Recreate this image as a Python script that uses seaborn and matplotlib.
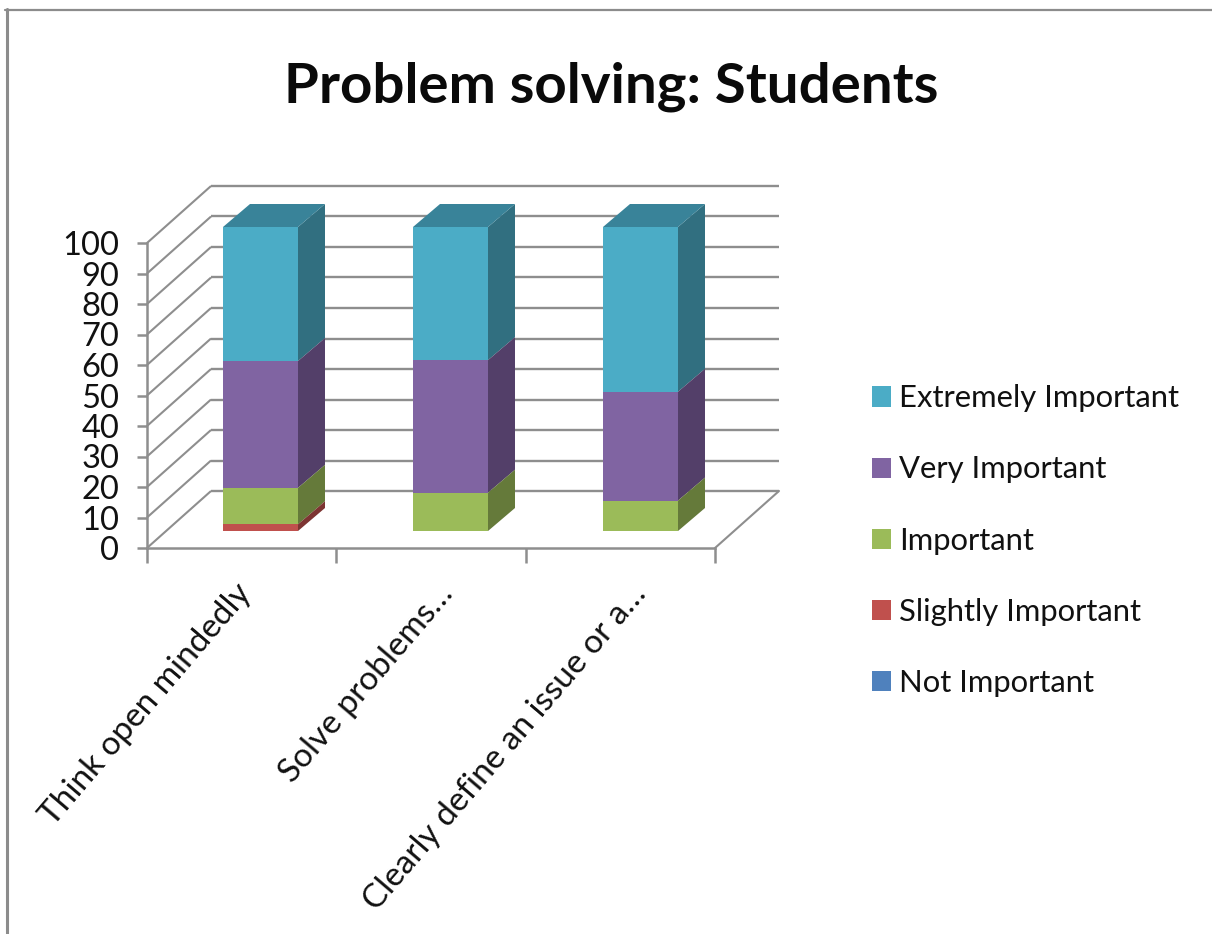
import numpy as np
import pandas as pd
import matplotlib
matplotlib.use("Agg")
import matplotlib.pyplot as plt
from matplotlib.lines import Line2D
from matplotlib.patches import Polygon
from matplotlib.transforms import Affine2D
import seaborn as sns

# ---- data ----
categories = ["Think open mindedly", "Solve problems…", "Clearly define an issue or a…"]
not_important = [0, 0, 0]
slightly_important = [2.2, 0, 0]
important = [12.0, 12.6, 10.0]
very_important = [41.7, 43.6, 35.8]
extremely_important = [44.1, 43.8, 54.2]
series_names = ["Extremely Important", "Very Important", "Important",
                "Slightly Important", "Not Important"]
y_ticks = list(range(0, 101, 10))
title = "Problem solving: Students"

front_colors = ["#4BACC6", "#8064A2", "#9BBB59", "#C0504D", "#4F81BD"]
side_colors = ["#316F80", "#533F69", "#657A3A", "#7D3432", "#33547B"]
top_color = "#398399"

W, H = 1212, 934
sns.set_theme(style="white")
plt.rcParams["font.family"] = ["Lato", "DejaVu Sans"]
TXT = "#111111"
GRID = "#8E8E8E"

fig = plt.figure(figsize=(W / 100, H / 100), dpi=100, facecolor="white")


def axes_px(x0, x1, ytop, ybot):
    return fig.add_axes([x0 / W, 1 - ybot / H, (x1 - x0) / W, (ybot - ytop) / H])


# ---- frame: axis plane, walls and floor ----
fx0, fx1, fytop, fybot = 147, 715, 243, 548
frame = axes_px(fx0, fx1, fytop, fybot)
frame.set_xlim(-0.5, 2.5)
frame.set_ylim(0, 100)
frame.patch.set_alpha(0)
sx = 3 / (fx1 - fx0)
sy = 100 / (fybot - fytop)
wall_dx, wall_dy = 64 * sx, 57 * sy
for v in y_ticks:
    frame.plot([-0.5, -0.5 + wall_dx], [v, v + wall_dy], color=GRID, lw=1.5,
               clip_on=False, solid_capstyle="butt")
    frame.plot([-0.5 + wall_dx, 2.5 + wall_dx], [v + wall_dy, v + wall_dy],
               color=GRID, lw=1.7, clip_on=False, solid_capstyle="butt")
frame.plot([2.5, 2.5 + wall_dx], [0, wall_dy], color=GRID, lw=1.5, clip_on=False)
for s in ("top", "right"):
    frame.spines[s].set_visible(False)
for s in ("left", "bottom"):
    frame.spines[s].set_color(GRID)
    frame.spines[s].set_linewidth(1.8)
frame.set_yticks(y_ticks)
frame.set_yticklabels([str(v) for v in y_ticks], fontsize=23.5, color=TXT)
frame.set_xticks([-0.5, 0.5, 1.5, 2.5])
frame.set_xticklabels([])
frame.tick_params(axis="y", which="major", length=7, width=1.8, color=GRID, left=True, pad=13)
frame.tick_params(axis="x", which="major", length=10.5, width=1.8, color=GRID, bottom=True)
frame.set_xticks([0, 1, 2], categories, minor=True)
frame.tick_params(axis="x", which="minor", length=0, pad=22, labelsize=24, labelcolor=TXT)
label_shift_px = [-7, 5, 9]
for lab, shift in zip(frame.get_xticklabels(minor=True), label_shift_px):
    lab.set_rotation(49.5)
    lab.set_ha("right")
    lab.set_rotation_mode("anchor")
    lab.set_transform(lab.get_transform() + Affine2D().translate(shift, 0))

# ---- bars: the plane of the bars, set back from the axis plane ----
bars = axes_px(165.5, 735.5, 227, 531)
bars.patch.set_alpha(0)
stack = [extremely_important, very_important, important, slightly_important, not_important]
cum_top = np.cumsum(np.array(stack[::-1], dtype=float), axis=0)[::-1]
cum_low = np.vstack([cum_top[1:], np.zeros(3)])
df = pd.DataFrame({
    "category": np.tile(categories, len(series_names)),
    "series": np.repeat(series_names, len(categories)),
    "cum": cum_top.ravel(),
})
bar_w = 75 / 190
sns.barplot(data=df, x="category", y="cum", hue="series", hue_order=series_names,
            order=categories, dodge=False, width=bar_w, palette=front_colors,
            saturation=1, errorbar=None, ax=bars, legend=True, linewidth=0)
handles, labels = bars.get_legend_handles_labels()
bars.get_legend().remove()
bars.set_xlim(-0.5, 2.5)
bars.set_ylim(0, 100)
bars.axis("off")

bx = 3 / 570
by = 100 / 304
side_dx, side_dy = 27 * bx, 23 * by
for i in range(len(categories)):
    xr = i + bar_w / 2
    xl = i - bar_w / 2
    for j in range(len(series_names)):
        lo, hi = cum_low[j, i], cum_top[j, i]
        if hi > lo:
            bars.add_patch(Polygon(
                [(xr, lo), (xr, hi), (xr + side_dx, hi + side_dy), (xr + side_dx, lo + side_dy)],
                closed=True, facecolor=side_colors[j], edgecolor="none", clip_on=False))
    t = cum_top[0, i]
    bars.add_patch(Polygon(
        [(xl, t), (xr, t), (xr + side_dx, t + side_dy), (xl + side_dx, t + side_dy)],
        closed=True, facecolor=top_color, edgecolor="none", clip_on=False))

# ---- legend and title ----
fig.legend(handles, labels, loc="center left", bbox_to_anchor=(862.5 / W, 1 - 540.5 / H),
           frameon=False, fontsize=22.3, labelcolor=TXT, handlelength=0.62, handleheight=0.62,
           handletextpad=0.26, labelspacing=1.39, borderpad=0.3, borderaxespad=0)
fig.text(611 / W, 1 - 87 / H, title, ha="center", va="center", fontsize=40.6,
         fontweight="bold", color="#0A0A0A")

# ---- picture border ----
fig.add_artist(Line2D([6.5 / W, 6.5 / W], [0, 1 - 9 / H], color="#8C8C8C", lw=2.2))
fig.add_artist(Line2D([5 / W, 1], [1 - 10 / H, 1 - 10 / H], color="#8C8C8C", lw=1.6))

fig.savefig("out.png", dpi=100)
